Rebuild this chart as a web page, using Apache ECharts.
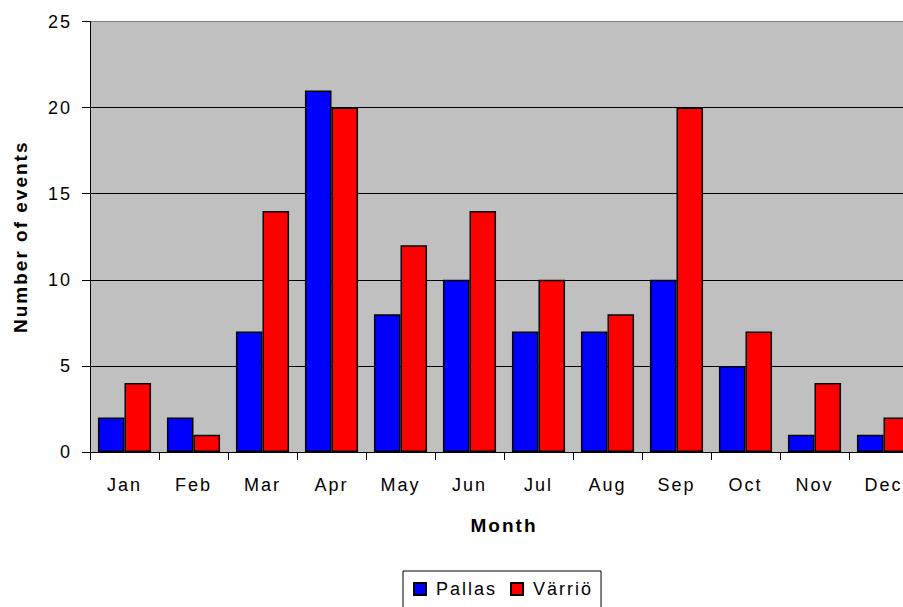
<!DOCTYPE html>
<html><head><meta charset="utf-8">
<script src="https://cdn.jsdelivr.net/npm/echarts@6/dist/echarts.min.js"></script>
<style>
html,body{margin:0;padding:0;background:#fff}
#c{width:903px;height:607px;overflow:hidden}
#c svg text{letter-spacing:2px}
</style>
</head><body><div id="c"></div>
<script>
const months = ['Jan','Feb','Mar','Apr','May','Jun','Jul','Aug','Sep','Oct','Nov','Dec'];
const pallas = [2,2,7,21,8,10,7,7,10,5,1,1];
const varrio = [4,1,14,20,12,14,10,8,20,7,4,2];
const yTicks = {min:0, max:25, interval:5};
const font = 'Liberation Sans, Arial, sans-serif';
const chart = echarts.init(document.getElementById('c'), null, {renderer:'svg'});
chart.setOption({
  animation:false,
  backgroundColor:'#fff',
  textStyle:{fontFamily:font},
  grid:{left:90, top:21.5, width:828, height:430.5, show:true, backgroundColor:'#C0C0C0', borderWidth:0,
        outerBoundsMode:'none', containLabel:false},
  legend:{
    top:571, left:403,
    data:['Pallas','Värriö'],
    itemWidth:12, itemHeight:12, itemGap:25,
    icon:'rect',
    borderColor:'#000', borderWidth:1,
    padding:[9,20,30,10],
    textStyle:{fontFamily:font, fontSize:18, color:'#000', padding:[0,0,0,5]}
  },
  xAxis:{
    type:'category', data:months,
    name:'Month', nameLocation:'middle', nameGap:64,
    nameTextStyle:{fontFamily:font, fontSize:19, fontWeight:'bold', color:'#000'},
    axisLine:{lineStyle:{color:'#000', width:1}},
    axisTick:{show:true, length:8, lineStyle:{color:'#000'}},
    axisLabel:{fontFamily:font, fontSize:18, color:'#000', margin:24},
    splitLine:{show:false}
  },
  yAxis:{
    type:'value', min:yTicks.min, max:yTicks.max, interval:yTicks.interval,
    name:'Number of events', nameLocation:'middle', nameGap:60, nameRotate:90,
    nameTextStyle:{fontFamily:font, fontSize:19, fontWeight:'bold', color:'#000'},
    axisLine:{show:true, lineStyle:{color:'#000', width:1}},
    axisTick:{show:true, length:8, lineStyle:{color:'#000'}},
    axisLabel:{fontFamily:font, fontSize:18, color:'#000', margin:18},
    splitLine:{show:true, lineStyle:{color:['#000','#000','#000','#000','#000','#808080'], width:1}}
  },
  series:[
    {name:'Pallas', type:'bar', data:pallas, barGap:'0%', barCategoryGap:'23%',
     itemStyle:{color:'#0000FF', borderColor:'#000', borderWidth:1.5}},
    {name:'Värriö', type:'bar', data:varrio, barGap:'0%', barCategoryGap:'23%',
     itemStyle:{color:'#FF0000', borderColor:'#000', borderWidth:1.5}}
  ]
});
</script></body></html>
